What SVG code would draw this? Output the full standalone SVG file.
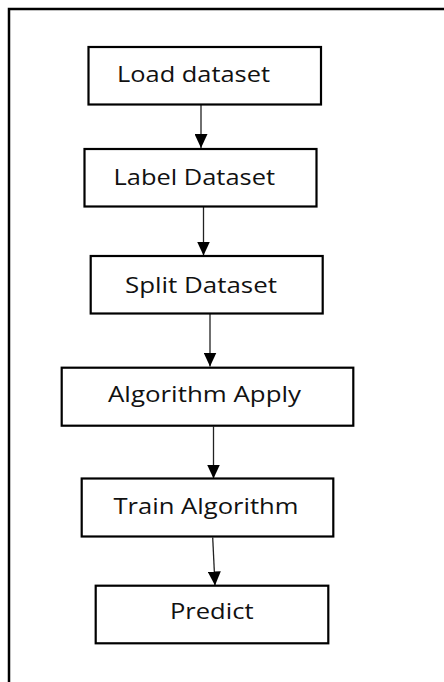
<svg xmlns="http://www.w3.org/2000/svg" width="444" height="682" viewBox="0 0 444 682">
<style>
.box{fill:#fff;stroke:#000;stroke-width:2.2}
.lbl{font-family:"Open Sans","Noto Sans",sans-serif;font-size:21px;fill:#111}
.edge{stroke:#222;stroke-width:1.3;fill:none}
</style>
<defs>
<marker id="ah" viewBox="0 0 14 13" refX="14" refY="6.5" markerWidth="14" markerHeight="13" markerUnits="userSpaceOnUse" orient="auto">
<path d="M0,0 L14,6.5 L0,13 Z" fill="#000"/>
</marker>
</defs>
<rect width="444" height="682" fill="#fff"/>
<path d="M9,682 V9 H444" fill="none" stroke="#000" stroke-width="2.5"/>
<g id="connectors">
<line class="edge" x1="201" y1="105" x2="201" y2="148" marker-end="url(#ah)"/>
<line class="edge" x1="203.5" y1="207" x2="203.5" y2="255.5" marker-end="url(#ah)"/>
<line class="edge" x1="210" y1="314" x2="210" y2="366.5" marker-end="url(#ah)"/>
<line class="edge" x1="213.5" y1="426.5" x2="213.5" y2="478.5" marker-end="url(#ah)"/>
<line class="edge" x1="212.7" y1="537.5" x2="215" y2="585.5" marker-end="url(#ah)"/>
</g>
<g id="load"><rect class="box" x="88.5" y="47" width="232.5" height="57.5"/><text class="lbl" x="117" y="81.5" textLength="153" lengthAdjust="spacingAndGlyphs">Load dataset</text></g>
<g id="label"><rect class="box" x="84.5" y="149" width="232" height="57.5"/><text class="lbl" x="113.5" y="184.5" textLength="161.5" lengthAdjust="spacingAndGlyphs">Label Dataset</text></g>
<g id="split"><rect class="box" x="90.7" y="256" width="232" height="57.5"/><text class="lbl" x="125" y="293.3" textLength="152" lengthAdjust="spacingAndGlyphs">Split Dataset</text></g>
<g id="apply"><rect class="box" x="61.7" y="367.7" width="291.6" height="58"/><text class="lbl" x="108" y="401.7" textLength="193" lengthAdjust="spacingAndGlyphs">Algorithm Apply</text></g>
<g id="train"><rect class="box" x="81.7" y="478.5" width="251.6" height="58"/><text class="lbl" x="113.5" y="514.3" textLength="185" lengthAdjust="spacingAndGlyphs">Train Algorithm</text></g>
<g id="predict"><rect class="box" x="95.7" y="585.7" width="232.6" height="57.6"/><text class="lbl" x="170" y="619.3" textLength="83.5" lengthAdjust="spacingAndGlyphs">Predict</text></g>
</svg>
